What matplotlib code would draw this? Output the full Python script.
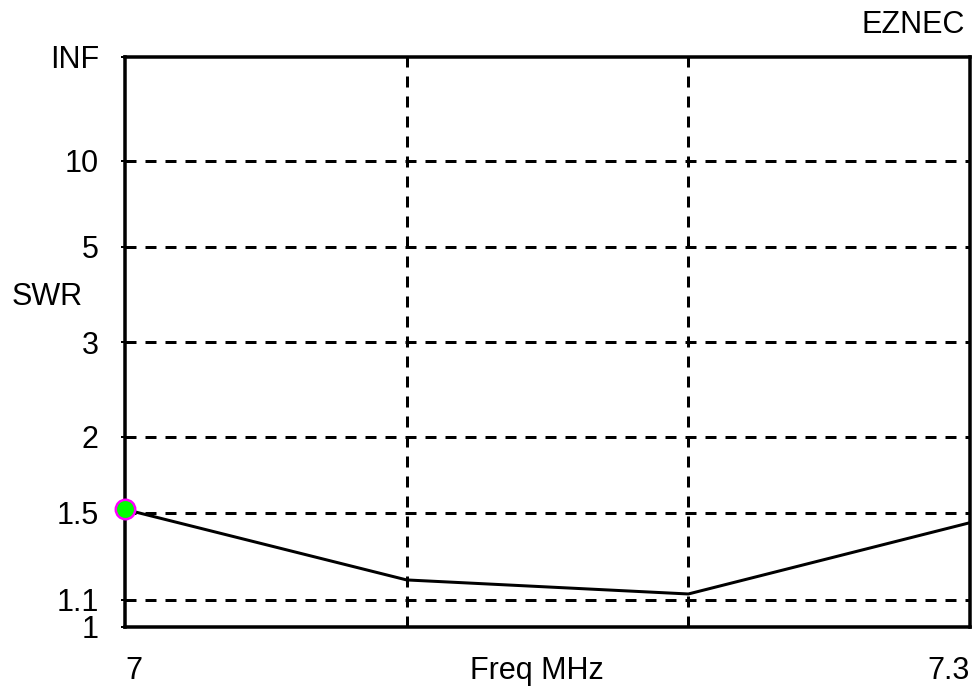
import numpy as np
import matplotlib
matplotlib.use("Agg")
import matplotlib.pyplot as plt

# ---------- data ----------
freq = [7.0, 7.1, 7.2, 7.3]          # MHz
swr = [1.52, 1.18, 1.123, 1.448]

swr_ticks = [1.0, 1.1, 1.5, 2, 3, 5, 10]
swr_tick_labels = ["1", "1.1", "1.5", "2", "3", "5", "10"]
freq_grid = [7.1, 7.2]


def rho(s):
    # EZNEC plots SWR on a reflection coefficient scale
    s = np.asarray(s, dtype=float)
    return (s - 1) / (s + 1)


plt.rcParams["font.family"] = ["Liberation Sans", "DejaVu Sans"]
plt.rcParams["font.size"] = 22

fig = plt.figure(figsize=(9.72, 6.90), dpi=100)
ax = fig.add_axes([125 / 972, 63 / 690, 845 / 972, 570 / 690])

px = 0.72  # one pixel in points
dash = (0, (11 / 3, 9 / 3))

# ---------- grid ----------
for s in swr_ticks[1:]:
    ax.axhline(rho(s), color="black", lw=3 * px, ls=dash, zorder=1)
for f in freq_grid:
    ax.axvline(f, color="black", lw=3 * px, ls=dash, zorder=1)

# ---------- SWR curve ----------
ax.plot(freq, rho(swr), color="black", lw=3 * px, zorder=3)
ax.plot(freq[0], rho(swr[0]), "o", ms=14, mfc="#00ff00", mec="#ff00ff",
        mew=1.8, zorder=4, clip_on=False)

ax.set_xlim(freq[0], freq[-1])
ax.set_ylim(0, 1)

ax.set_yticks(list(rho(swr_ticks)) + [1.0])
ax.set_yticklabels(swr_tick_labels + ["INF"])
ax.tick_params(axis="y", length=4 * px, width=2 * px, pad=16)
ax.set_xticks([])

for sp in ax.spines.values():
    sp.set_linewidth(3.5 * px)

# ---------- labels ----------
ax.text(0.0, -0.077, "7", transform=ax.transAxes, ha="left", va="center")
ax.text(1.0, -0.077, "7.3", transform=ax.transAxes, ha="right", va="center")
ax.text(0.488, -0.077, "Freq MHz", transform=ax.transAxes, ha="center", va="center")
fig.text(12 / 972, 1 - 297 / 690, "SWR", ha="left", va="center")
fig.text(965 / 972, 1 - 25 / 690, "EZNEC", ha="right", va="center")

fig.savefig("out.png", dpi=100)
